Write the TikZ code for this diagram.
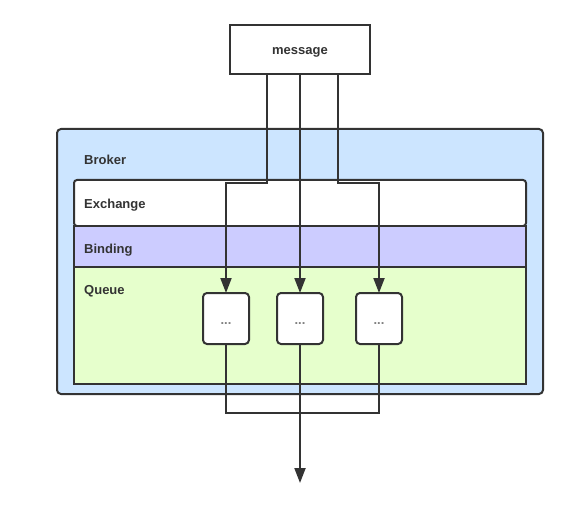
\documentclass[tikz,border=0pt]{standalone}
\usepackage{fontspec}
\setmainfont{Liberation Sans}
\usetikzlibrary{arrows.meta,calc}
\definecolor{strokec}{HTML}{333333}
\definecolor{brokerc}{HTML}{CCE5FF}
\definecolor{bindc}{HTML}{CCCCFF}
\definecolor{queuec}{HTML}{E6FFCC}
\definecolor{dotc}{HTML}{808080}
\tikzset{
  box/.style={draw=strokec, line width=2pt, inner sep=0pt, outer sep=0pt},
  band/.style={box, rectangle},
  lbl/.style={font=\bfseries\fontsize{13}{15}\selectfont, text=strokec, anchor=base west, inner sep=0pt},
  qbox/.style={box, fill=white, rounded corners=4pt, minimum width=46pt, minimum height=51pt, font=\bfseries\fontsize{13}{14}\selectfont, text=dotc, text height=11pt, text depth=0pt},
  arr/.style={draw=strokec, line width=2pt, -{Triangle[length=15pt,width=11pt]}},
  con/.style={draw=strokec, line width=2pt},
}
\begin{document}
\begin{tikzpicture}[x=1pt,y=-1pt]
\useasboundingbox (0,0) rectangle (568,508);
% broker
\node[box, fill=brokerc, rounded corners=4pt, minimum width=486pt, minimum height=265pt] (broker) at (300,261.5) {};
\node[lbl] (brokerlbl) at (84,165) {Broker};
% bands
\node[band, fill=white, rounded corners=3pt, minimum width=452pt, minimum height=46pt] (exchange) at (300,203) {};
\node[band, fill=bindc, minimum width=452pt, minimum height=41pt] (binding) at (300,246.5) {};
\node[band, fill=queuec, minimum width=452pt, minimum height=117pt] (queue) at (300,325.5) {};
\node[lbl] (exlbl) at (84,208) {Exchange};
\node[lbl] (bindlbl) at (84,253) {Binding};
\node[lbl] (queuelbl) at (84,294) {Queue};
% message
\node[box, fill=white, minimum width=140pt, minimum height=49pt, font=\bfseries\fontsize{13}{15}\selectfont, text=strokec, text height=10pt, text depth=0pt] (message) at (300,49.5) {message};
% queues
\node[qbox] (q1) at (226,318.5) {...};
\node[qbox] (q2) at (300,318.5) {...};
\node[qbox] (q3) at (379,318.5) {...};
\coordinate (join) at (300,413);
\coordinate (out) at (300,483);
% connectors
\draw[arr] ([xshift=-33pt]message.south) -- ++(0,109) -| (q1.north);
\draw[arr] (message.south) -- (q2.north);
\draw[arr] ([xshift=38pt]message.south) -- ++(0,109) -| (q3.north);
\draw[con] (q1.south) |- (join) -| (q3.south);
\draw[arr] (q2.south) -- (out);
\end{tikzpicture}
\end{document}
